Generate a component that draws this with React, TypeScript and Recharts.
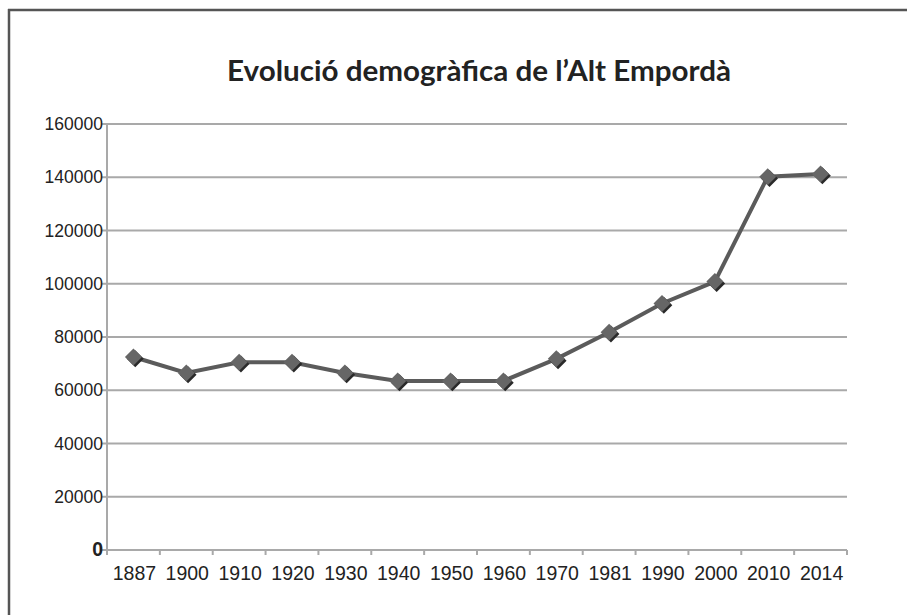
import React from "react";
import { LineChart, Line, XAxis, YAxis, CartesianGrid } from "recharts";

const years = ["1887", "1900", "1910", "1920", "1930", "1940", "1950", "1960", "1970", "1981", "1990", "2000", "2010", "2014"];
const population = [72500, 66500, 70500, 70500, 66500, 63500, 63500, 63500, 71800, 81800, 92600, 100800, 140200, 141200];
const yTicks = [0, 20000, 40000, 60000, 80000, 100000, 120000, 140000, 160000];
const title = "Evolució demogràfica de l’Alt Empordà";

const data = years.map((y, i) => ({ year: y, value: population[i] }));

const W = 907;
const H = 615;
const GRID = "#a9a9a9";
const TICK_SIZE = 5;
const TICK_MARGIN = 2;

const XTick = (props: any) => {
  const { x, y, payload, index } = props;
  const axisY = y - TICK_SIZE - TICK_MARGIN;
  const band = 740 / years.length;
  return (
    <g>
      {index === 0 && (
        <line x1={x - band / 2} x2={x - band / 2} y1={axisY} y2={axisY + 5} stroke={GRID} strokeWidth={2} />
      )}
      <line x1={x + band / 2} x2={x + band / 2} y1={axisY} y2={axisY + 5} stroke={GRID} strokeWidth={2} />
      <text x={x + 1} y={axisY + 30} textAnchor="middle" fontFamily="'Liberation Sans', Arial, sans-serif" fontSize={19.5} fill="#222">
        {payload.value}
      </text>
    </g>
  );
};

const YTick = (props: any) => {
  const { x, y, payload } = props;
  const isZero = payload.value === 0;
  return (
    <text
      x={x + 1}
      y={y + 6}
      textAnchor="end"
      fontFamily="'Liberation Sans', Arial, sans-serif"
      fontSize={isZero ? 19.5 : 17.5}
      fontWeight={isZero ? 700 : 400}
      fill="#222"
    >
      {payload.value}
    </text>
  );
};

const Diamond = (props: any) => {
  const { cx, cy } = props;
  if (cx == null || cy == null) return null;
  const r = 8.5;
  const pts = (ox: number, oy: number) =>
    `${cx + ox},${cy + oy - r} ${cx + ox + r},${cy + oy} ${cx + ox},${cy + oy + r} ${cx + ox - r},${cy + oy}`;
  return (
    <g>
      <polygon points={pts(1.8, 1.8)} fill="#2a2a2a" />
      <polygon points={pts(0, 0)} fill="#666666" />
    </g>
  );
};

export default function App() {
  return (
    <div style={{ position: "absolute", left: 0, top: 0, width: W, height: H, background: "#fff" }}>
      <LineChart
        width={W}
        height={H}
        data={data}
        margin={{ top: 124, right: 60, bottom: 25, left: 47 }}
      >
        <CartesianGrid vertical={false} stroke={GRID} strokeWidth={2} />
        <XAxis
          dataKey="year"
          scale="band"
          stroke={GRID}
          strokeWidth={2}
          tickLine={false}
          tickSize={TICK_SIZE}
          tickMargin={TICK_MARGIN}
          tick={<XTick />}
          height={40}
          interval={0}
        />
        <YAxis
          domain={[0, 160000]}
          ticks={yTicks}
          stroke={GRID}
          strokeWidth={2}
          tickSize={5}
          tickMargin={0}
          tickLine={{ stroke: GRID, strokeWidth: 2 }}
          tick={<YTick />}
          width={60}
          interval={0}
        />
        <Line
          type="linear"
          dataKey="value"
          stroke="#5b5b5b"
          strokeWidth={4}
          dot={<Diamond />}
          activeDot={false}
          isAnimationActive={false}
        />
      </LineChart>
      <svg
        width={W}
        height={H}
        style={{ position: "absolute", left: 0, top: 0, pointerEvents: "none" }}
      >
        <line x1={8} x2={W} y1={10} y2={10} stroke="#555" strokeWidth={2.5} />
        <line x1={9} x2={9} y1={9} y2={H} stroke="#555" strokeWidth={2.5} />
        <text
          x={479}
          y={81}
          textAnchor="middle"
          fontFamily="Lato, 'Open Sans', sans-serif"
          fontWeight={700}
          fontSize={28}
          fill="#222"
          textLength={504}
          lengthAdjust="spacingAndGlyphs"
        >
          {title}
        </text>
      </svg>
    </div>
  );
}
